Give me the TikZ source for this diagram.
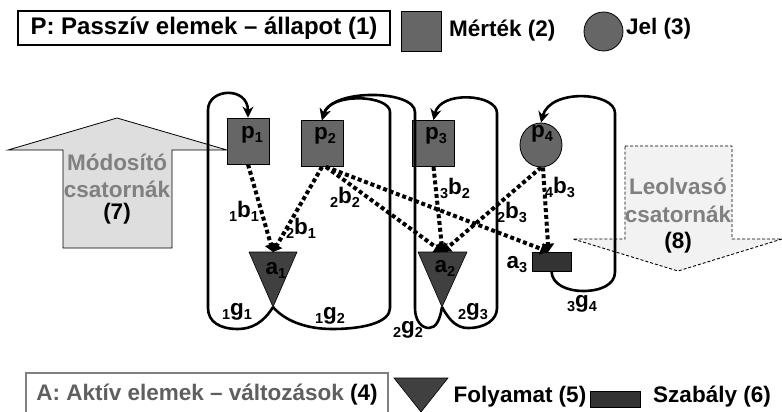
\documentclass[tikz,border=0pt]{standalone}
\usepackage{fontspec}
\usepackage{graphicx}
\setmainfont{Liberation Sans}
\usetikzlibrary{arrows.meta,shapes.geometric}

\definecolor{pgray}{HTML}{666666}
\definecolor{adark}{HTML}{404040}
\definecolor{rdark}{HTML}{333333}
\definecolor{infill}{HTML}{DEDEDE}
\definecolor{outfill}{HTML}{F2F2F2}
\definecolor{chantext}{HTML}{808080}
\definecolor{atext}{HTML}{5F5F5F}
\definecolor{aborder}{HTML}{808080}

% lowered index, used on both sides of a letter
\newcommand\lsub[1]{\raisebox{-4pt}{\fontsize{14.5}{15}\selectfont #1}}
\newcommand\lbl[3]{\lsub{#1}#2\lsub{#3}}

\begin{document}
\begin{tikzpicture}[x=1pt,y=-1pt,
  font=\fontsize{22.5}{25}\selectfont\bfseries,
  pbox/.style={rectangle, draw=black, line width=0.8pt, fill=pgray,
    minimum width=42pt, minimum height=46pt, inner sep=0pt},
  loopline/.style={line width=2.6pt, line join=round},
  looparrow/.style={loopline, -{Stealth[length=11pt,width=11pt]}},
  dotarrow/.style={line width=4pt, dash pattern=on 4pt off 2.8pt,
    -{Triangle[length=8pt,width=12pt]}},
  lab/.style={inner sep=0pt, text=black},
  chan/.style={inner sep=0pt, text=chantext},
  tri/.style={fill=adark, draw=black, line width=0.6pt}]

\useasboundingbox (0,0) rectangle (782,412);

% channel arrows in the background
\filldraw[fill=infill, draw=black, line width=0.8pt]
  (117,118) -- (227,150) -- (172,150) -- (172,248) -- (63,248) -- (63,150) -- (8,150) -- cycle;
\filldraw[fill=outfill, draw=black, line width=0.9pt, dash pattern=on 3pt off 2pt]
  (625,146) -- (732,146) -- (732,239) -- (782,239) -- (678,271) -- (573,239) -- (625,239) -- cycle;

\node[chan] (m1) at (117,162) {Módosító};
\node[chan] (m2) at (117,189) {csatornák};
\node[lab] (m3) at (117,214) {(7)};
\node[chan] (r1) at (678,186) {Leolvasó};
\node[chan] (r2) at (678,214) {csatornák};
\node[lab] (r3) at (678,243) {(8)};

% legend, top row
\node[draw=black, line width=2pt, minimum width=372pt, minimum height=34pt, inner sep=0pt,
  font=\fontsize{24}{27}\selectfont\bfseries] (ptitle) at (204,28) {P: Passzív elemek – állapot (1)};
\node[rectangle, draw=black, line width=0.8pt, fill=pgray, minimum size=40pt, inner sep=0pt] (leg2) at (421.5,31) {};
\node[lab, anchor=west] (leg2t) at (449,31) {Mérték (2)};
\node[circle, draw=black, line width=0.8pt, fill=pgray, minimum size=39pt, inner sep=0pt] (leg3) at (603.5,31.5) {};
\node[lab, anchor=west] (leg3t) at (626,29) {Jel (3)};

% passive elements
\node[pbox] (p1) at (248,141) {};
\node[pbox] (p2) at (322,143.5) {};
\node[pbox] (p3) at (433.5,143.5) {};
\node[ellipse, draw=black, line width=0.8pt, fill=pgray, minimum width=42pt, minimum height=44pt, inner sep=0pt] (p4) at (541,145) {};
\node[lab] (lp1) at (252,135) {p\lsub{1}};
\node[lab] (lp2) at (325,136) {p\lsub{2}};
\node[lab] (lp3) at (436,136) {p\lsub{3}};
\node[lab] (lp4) at (542,134) {p\lsub{4}};

% active elements
\coordinate (a1tip) at (273,307);
\coordinate (a2tip) at (442,307);
\filldraw[tri] (249,252) -- (297,252) -- (a1tip) -- cycle;
\filldraw[tri] (418,252) -- (467,252) -- (a2tip) -- cycle;
\coordinate (a1) at (273,252);
\coordinate (a2) at (442.5,252);
\node[rectangle, draw=black, line width=0.6pt, fill=rdark, minimum width=39pt, minimum height=19pt, inner sep=0pt] (a3) at (551.5,261.5) {};
\node[lab] (la1) at (276,270) {a\lsub{1}};
\node[lab] (la2) at (445,268) {a\lsub{2}};
\node[lab] (la3) at (517,265) {a\lsub{3}};

% feedback loops from the active to the passive elements
\draw[looparrow] (a1tip) .. controls (264,322) and (252,329) .. (238,329)
  .. controls (220,329) and (208,322) .. (208,308) -- (208,110)
  .. controls (208,88) and (248,86) .. (p1.north);
\draw[looparrow] (a1tip) .. controls (284,320) and (305,329) .. (332,329)
  .. controls (365,329) and (390,322) .. (390,308) -- (390,112)
  .. controls (390,95) and (330,92) .. (p2.north);
\draw[looparrow] (a2tip) .. controls (440,320) and (436,328) .. (429,328)
  .. controls (421,328) and (415,320) .. (415,308) -- (415,112)
  .. controls (415,90) and (332,88) .. (p2.north);
\draw[looparrow] (a2tip) .. controls (450,322) and (458,328) .. (468,328)
  .. controls (485,328) and (497,320) .. (497,308) -- (497,113)
  .. controls (497,94) and (440,90) .. (p3.north);
\draw[looparrow] (a3.south) .. controls (552,285) and (568,291) .. (583,291)
  .. controls (600,291) and (615,285) .. (615,272) -- (615,113)
  .. controls (615,92) and (550,88) .. (p4.north);

% dotted influence arrows
\draw[dotarrow] (p1.south) -- (a1);
\draw[dotarrow] (p2.south) -- (a1);
\draw[dotarrow] ([xshift=4pt]p2.south) -- (a2);
\draw[dotarrow] ([xshift=4pt]p2.south) -- ([xshift=-3pt]a3.north);
\draw[dotarrow] (p3.south) -- (a2);
\draw[dotarrow] (p4.south) -- (a2);
\draw[dotarrow] ([xshift=2pt]p4.south) -- ([xshift=-3pt]a3.north);

% edge labels
\node[lab] (l11) at (244,211) {\lbl{1}{b}{1}};
\node[lab] (l21) at (301,228) {\lbl{2}{b}{1}};
\node[lab] (l22) at (345,197) {\lbl{2}{b}{2}};
\node[lab] (l32) at (455,188) {\lbl{3}{b}{2}};
\node[lab] (l23) at (512,212) {\lbl{2}{b}{3}};
\node[lab] (l43) at (560,187) {\lbl{4}{b}{3}};
\node[lab] (g11) at (237,312) {\lbl{1}{g}{1}};
\node[lab] (g12) at (330,316) {\lbl{1}{g}{2}};
\node[lab] (g22) at (408,330) {\lbl{2}{g}{2}};
\node[lab] (g23) at (473,312) {\lbl{2}{g}{3}};
\node[lab] (g34) at (582,304) {\lbl{3}{g}{4}};

% legend, bottom row
\node[draw=aborder, line width=1.8pt, minimum width=362pt, minimum height=44pt, inner sep=0pt] (abox) at (207,395)
  {\textcolor{atext}{A: Aktív elemek – változások} (4)};
\filldraw[tri] (394,378) -- (448,378) -- (421,412) -- cycle;
\node[lab] (leg5t) at (520,397) {Folyamat (5)};
\node[rectangle, draw=black, line width=0.6pt, fill=rdark, minimum width=50pt, minimum height=16pt, inner sep=0pt] (leg6) at (615,399) {};
\node[lab] (leg6t) at (712,397) {Szabály (6)};
\end{tikzpicture}
\end{document}
